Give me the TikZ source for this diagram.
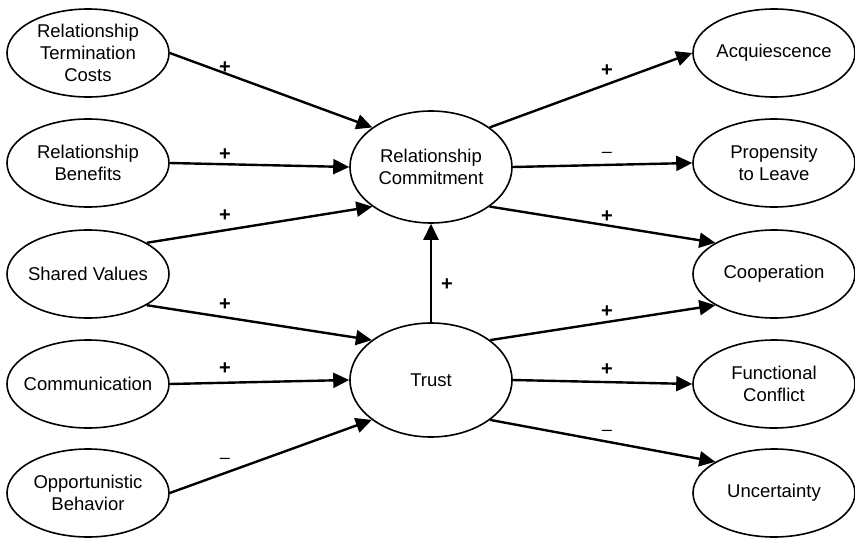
\documentclass[tikz,border=0pt]{standalone}
\usepackage{fontspec}
\setmainfont{Liberation Sans}
\usetikzlibrary{arrows.meta,shapes.geometric}
\begin{document}
\begin{tikzpicture}[x=1pt,y=-1pt,
  construct/.style={ellipse,draw,line width=1.6pt,inner xsep=-20pt,inner ysep=0pt,minimum width=162pt,minimum height=88pt,align=center,font=\fontsize{18.5}{22}\selectfont},
  bigc/.style={construct,minimum height=112pt},
  link/.style={line width=2.4pt,-{Triangle[length=16pt,width=15pt]}},
  sign/.style={font=\fontsize{20}{20}\selectfont\bfseries,inner sep=0pt},
  msign/.style={font=\fontsize{18}{18}\selectfont,inner sep=0pt}]
\useasboundingbox (0,0) rectangle (855,538);
% left column
\node[construct] (rtc) at (88,53) {Relationship\\Termination\\Costs};
\node[construct] (rb) at (88,163) {Relationship\\Benefits};
\node[construct] (sv) at (88,274) {Shared Values};
\node[construct] (com) at (88,384) {Communication};
\node[construct] (ob) at (88,493) {Opportunistic\\Behavior};
% centre
\node[bigc] (rc) at (431,167) {Relationship\\Commitment};
\node[bigc,minimum height=114pt] (tr) at (431,380) {Trust};
% right column
\node[construct] (acq) at (774,53) {Acquiescence};
\node[construct] (ptl) at (774,163) {Propensity\\to Leave};
\node[construct] (coop) at (774,274) {Cooperation};
\node[construct] (fc) at (774,384) {Functional\\Conflict};
\node[construct] (unc) at (774,493) {Uncertainty};
% connectors
\draw[link] (rtc.east) -- (rc.146);
\draw[link] (rb.east) -- (rc.west);
\draw[link] (sv.28) -- (rc.214);
\draw[link] (sv.-28) -- (tr.146);
\draw[link] (com.east) -- (tr.west);
\draw[link] (ob.east) -- (tr.214);
\draw[link] (tr.north) -- (rc.south);
\draw[link] (rc.34) -- (acq.west);
\draw[link] (rc.east) -- (ptl.west);
\draw[link] (rc.-34) -- (coop.152);
\draw[link] (tr.34) -- (coop.208);
\draw[link] (tr.east) -- (fc.west);
\draw[link] (tr.-34) -- (unc.152);
% signs
\node[sign] (s1) at (225,68) {+};
\node[sign] (s2) at (225,155) {+};
\node[sign] (s3) at (225,216) {+};
\node[sign] (s4) at (225,305) {+};
\node[sign] (s5) at (225,369) {+};
\node[msign] (s6) at (225,461) {–};
\node[sign] (s7) at (447,285) {+};
\node[sign] (s8) at (607,71) {+};
\node[msign] (s9) at (607,155) {–};
\node[sign] (s10) at (607,217) {+};
\node[sign] (s11) at (607,312) {+};
\node[sign] (s12) at (607,370) {+};
\node[msign] (s13) at (607,433) {–};
\end{tikzpicture}
\end{document}
